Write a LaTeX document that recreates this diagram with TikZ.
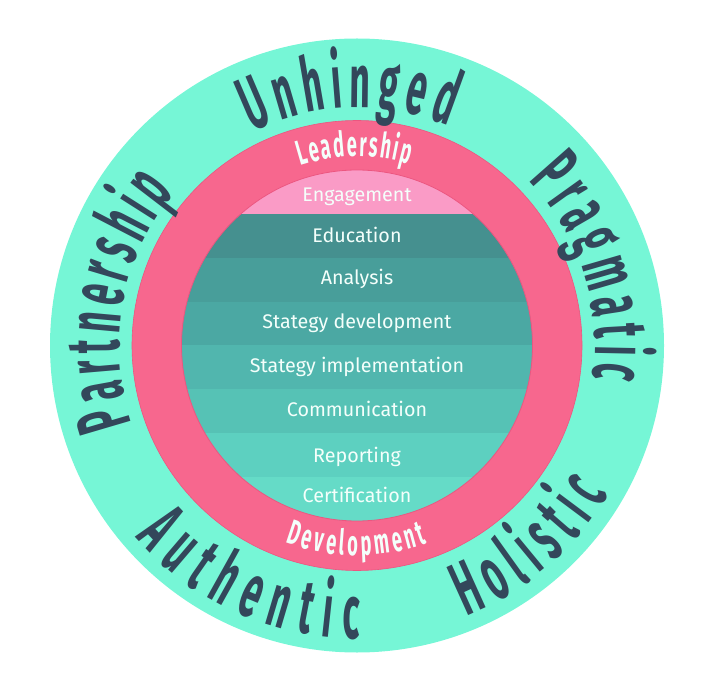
\documentclass[tikz,border=0pt]{standalone}
\usepackage{fontspec}
\setmainfont{Fira Sans}
\newfontfamily\outerfont{Fira Sans}[FakeStretch=0.47, BoldFeatures={FakeStretch=0.47}]
\newfontfamily\ringfont{Fira Sans}[FakeStretch=0.52, BoldFeatures={FakeStretch=0.52}]
\usetikzlibrary{decorations.text,calc}
\definecolor{outerteal}{HTML}{76F6D6}
\definecolor{ringpink}{HTML}{F7678E}
\definecolor{ringedge}{HTML}{EC5680}
\definecolor{engpink}{HTML}{FA9BC6}
\definecolor{bandA}{HTML}{45908F}
\definecolor{bandB}{HTML}{489E9A}
\definecolor{bandC}{HTML}{4BA8A3}
\definecolor{bandD}{HTML}{51B6AE}
\definecolor{bandE}{HTML}{56C2B5}
\definecolor{bandF}{HTML}{5DD0C0}
\definecolor{bandG}{HTML}{65DBC7}
\definecolor{slate}{HTML}{33475B}
\definecolor{softwhite}{HTML}{F4FFFB}
\tikzset{
  bandtext/.style={anchor=base, text=softwhite, font=\fontsize{19.7}{19.7}\selectfont, inner sep=0pt},
  outerword/.style={decorate, decoration={text along path, text align=fit to path, text color=slate, text={|\outerfont\bfseries\fontsize{76}{76}\selectfont|#1}}},
  ringword/.style={decorate, decoration={text along path, text align=fit to path, text color=softwhite, text={|\ringfont\bfseries\fontsize{35}{35}\selectfont|#1}}}
}
\begin{document}
\begin{tikzpicture}[x=1pt,y=1pt]
\useasboundingbox (0,0) rectangle (712,-684);
\coordinate (C) at (357,-345.5);
% rings
\fill[outerteal] (C) circle[radius=307pt];
\fill[ringpink] (C) circle[radius=225pt];
\draw[ringedge, line width=0.6pt] (C) circle[radius=225pt];
% bands
\begin{scope}
  \clip (C) circle[radius=175.5pt];
  \foreach \c [count=\i from 0] in {engpink,bandA,bandB,bandC,bandD,bandE,bandF,bandG}
    \fill[\c] (170,{-170-43.875*\i}) rectangle (545,{-170-43.875*(\i+1)});
\end{scope}
\draw[ringedge, line width=0.8pt] (C) circle[radius=175.5pt];
% band labels
\node[bandtext] (engagement) at (357,-201.5) {Engagement};
\node[bandtext] (education) at (357,-243) {Education};
\node[bandtext] (analysis) at (357,-284.5) {Analysis};
\node[bandtext] (stratdev) at (357,-328.5) {Stategy development};
\node[bandtext] (stratimp) at (357,-373) {Stategy implementation};
\node[bandtext] (communication) at (357,-416) {Communication};
\node[bandtext] (reporting) at (357,-462.5) {Reporting};
\node[bandtext] (certification) at (357,-502) {Certification};
% ring words
\path[ringword=Leadership] ($(C)+(107.5:189pt)$) arc[start angle=107.5, end angle=74, radius=189pt];
\path[ringword=Development] ($(C)+(250:210pt)$) arc[start angle=250, end angle=289.5, radius=210pt];
% outer words
\path[outerword=Unhinged] ($(C)+(116:238pt)$) arc[start angle=116, end angle=67.5, radius=238pt];
\path[outerword=Pragmatic] ($(C)+(44:238pt)$) arc[start angle=44, end angle=-8, radius=238pt];
\path[outerword=Partnership] ($(C)+(199:238pt)$) arc[start angle=199, end angle=140, radius=238pt];
\path[outerword=Holistic] ($(C)+(-68:292pt)$) arc[start angle=-68, end angle=-30.5, radius=292pt];
\path[outerword=Authentic] ($(C)+(221:293pt)$) arc[start angle=221, end angle=270.5, radius=293pt];
\end{tikzpicture}
\end{document}
